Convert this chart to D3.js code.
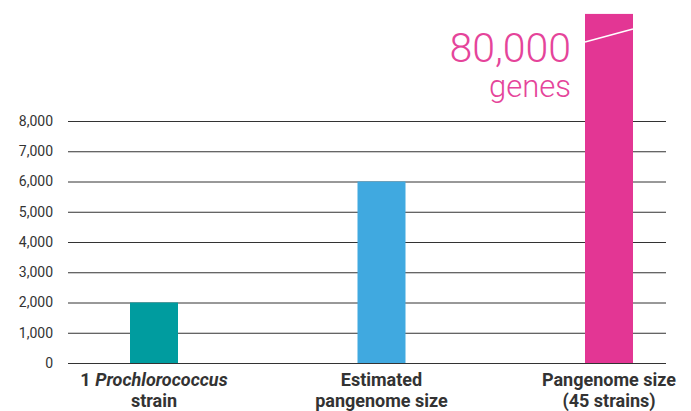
<!DOCTYPE html>
<html>
<head>
<meta charset="utf-8">
<script src="https://d3js.org/d3.v7.min.js"></script>
<style>
  body { margin: 0; background: #fff; }
  text { font-family: Roboto, "Noto Sans", sans-serif; }
</style>
</head>
<body>
<svg class="chart"></svg>
<script>
const W = 691;
const H = 411;

// Data
var categories = ["strain1", "estimated", "pangenome"];
var values = [2000, 6000, 80000];
var colors = ["#009c9f", "#40a9e0", "#e33694"];
var labelLines = [
    [["1 ", "Prochlorococcus"], "strain"],
    ["Estimated", "pangenome size"],
    ["Pangenome size", "(45 strains)"]
];
var yTicks = [0, 1000, 2000, 3000, 4000, 5000, 6000, 7000, 8000];
var breakCap = 11540;   // axis is broken, tall bar is drawn up to here
var bigLabel = ["80,000", "genes"];

var svg = d3.select(".chart")
    .attr("width", W)
    .attr("height", H);

// Scale (Y) genes
var scaleY = d3.scaleLinear()
    .domain([0, 8000])
    .range([363, 121]);
// Scale (X) bar centres
var scaleX = d3.scalePoint()
    .domain(categories)
    .range([154, 609]);
var barW = 48;

// Y-axis with gridlines
var yAxis = svg.append("g")
    .attr("id", "y-axis")
    .attr("transform", "translate(68,0)")
    .call(d3.axisLeft(scaleY).tickValues(yTicks).tickSize(-598).tickPadding(15)
        .tickFormat(d3.format(",")));
yAxis.select(".domain").remove();
yAxis.selectAll("line")
    .attr("stroke", "#333")
    .attr("stroke-width", 1);
yAxis.selectAll("text")
    .style("font-size", "14px")
    .attr("fill", "#333");

// Bars
var bars = svg.append("g");
bars.selectAll("rect")
    .data(values)
    .enter().append("rect")
    .attr("x", (d, i) => scaleX(categories[i]) - barW / 2)
    .attr("width", barW)
    .attr("y", d => scaleY(Math.min(d, breakCap)))
    .attr("height", d => scaleY(0) - scaleY(Math.min(d, breakCap)))
    .attr("fill", (d, i) => colors[i]);

// Axis break on the tall bar
var bx = scaleX(categories[2]);
svg.append("line")
    .attr("x1", bx - barW / 2)
    .attr("x2", bx + barW / 2)
    .attr("y1", scaleY(breakCap) + 28)
    .attr("y2", scaleY(breakCap) + 15)
    .attr("stroke", "#fff")
    .attr("stroke-width", 1.5);

// Big value label
svg.append("text")
    .attr("x", bx - barW / 2 - 14)
    .attr("y", 62)
    .attr("text-anchor", "end")
    .style("font-size", "41px")
    .style("font-weight", 300)
    .attr("fill", "#e5449a")
    .text(bigLabel[0]);
svg.append("text")
    .attr("x", bx - barW / 2 - 14)
    .attr("y", 97)
    .attr("text-anchor", "end")
    .style("font-size", "31px")
    .style("font-weight", 300)
    .attr("fill", "#e5449a")
    .text(bigLabel[1]);

// Category labels
var lab = svg.append("g")
    .style("font-size", "18px")
    .style("font-weight", 700)
    .attr("fill", "#333")
    .attr("text-anchor", "middle");
labelLines.forEach(function(lines, i) {
    lines.forEach(function(line, j) {
        var t = lab.append("text")
            .attr("x", scaleX(categories[i]))
            .attr("y", 386 + j * 21);
        if (Array.isArray(line)) {
            t.append("tspan").text(line[0]);
            t.append("tspan").style("font-style", "italic").text(line[1]);
        } else {
            t.text(line);
        }
    });
});
</script>
</body>
</html>
